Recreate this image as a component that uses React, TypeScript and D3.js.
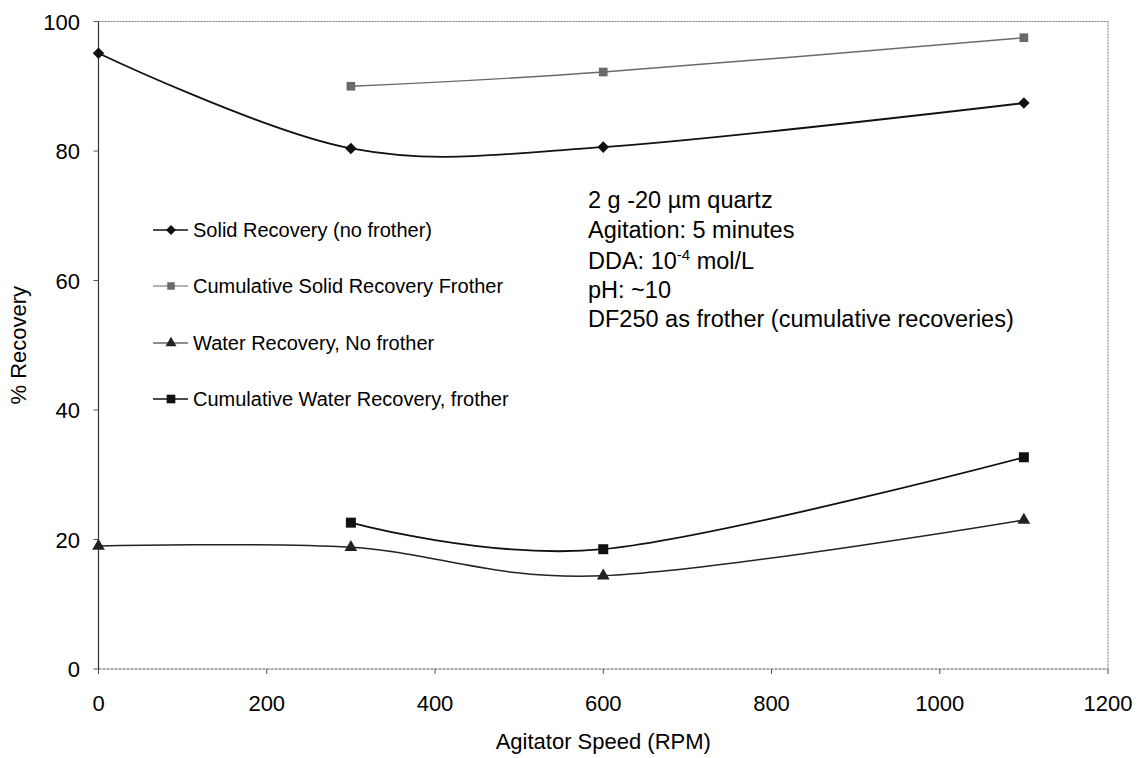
import React from "react";
import * as d3 from "d3";

// Agitator speed (RPM) and % recovery per series
const speedsNoFrother = [0, 300, 600, 1100];
const speedsFrother = [300, 600, 1100];
const solidNoFrother = [95.1, 80.4, 80.6, 87.4];
const solidFrother = [90.0, 92.2, 97.5];
const waterNoFrother = [19.0, 18.8, 14.4, 23.0];
const waterFrother = [22.6, 18.5, 32.7];

const xTicks = [0, 200, 400, 600, 800, 1000, 1200];
const yTicks = [0, 20, 40, 60, 80, 100];

const legendLabels = [
  "Solid Recovery (no frother)",
  "Cumulative Solid Recovery Frother",
  "Water Recovery, No frother",
  "Cumulative Water Recovery, frother",
];

const W = 1148;
const H = 758;
const FONT = "Arial, 'Liberation Sans', Helvetica, sans-serif";

type Series = {
  name: string;
  xs: number[];
  ys: number[];
  color: string;
  width: number;
  symbol: d3.SymbolType;
  size: number;
};

const series: Series[] = [
  { name: legendLabels[0], xs: speedsNoFrother, ys: solidNoFrother, color: "#111", width: 1.8, symbol: d3.symbolDiamond2, size: 85 },
  { name: legendLabels[1], xs: speedsFrother, ys: solidFrother, color: "#6a6a6a", width: 1.4, symbol: d3.symbolSquare, size: 75 },
  { name: legendLabels[2], xs: speedsNoFrother, ys: waterNoFrother, color: "#222", width: 1.5, symbol: d3.symbolTriangle, size: 70 },
  { name: legendLabels[3], xs: speedsFrother, ys: waterFrother, color: "#111", width: 1.8, symbol: d3.symbolSquare, size: 100 },
];

export default function App() {
  const x = d3.scaleLinear().domain([0, 1200]).range([98.5, 1108]);
  const y = d3.scaleLinear().domain([0, 100]).range([669, 21.5]);
  const [x0, x1] = x.range();
  const [y0, y1] = y.range();

  const line = d3
    .line<[number, number]>()
    .x((d) => x(d[0]))
    .y((d) => y(d[1]))
    .curve(d3.curveCardinal.tension(0));

  const legendX = 153;
  const legendY = [230, 286, 343, 399];

  return (
    <svg
      width={W}
      height={H}
      style={{ position: "absolute", left: 0, top: 0, background: "#fff" }}
      fontFamily={FONT}
    >
      {/* plot frame */}
      <line x1={x0} x2={x1} y1={y1} y2={y1} stroke="#777" strokeWidth={1} strokeDasharray="2,1" />
      <line x1={x1} x2={x1} y1={y1} y2={y0} stroke="#777" strokeWidth={1} strokeDasharray="2,1" />
      <line x1={x0} x2={x1} y1={y0} y2={y0} stroke="#555" strokeWidth={1} strokeDasharray="3,1" />
      <line x1={x0} x2={x0} y1={y1} y2={y0} stroke="#333" strokeWidth={1.2} />

      {/* x axis ticks and labels */}
      {xTicks.map((t) => (
        <g key={"x" + t}>
          <line x1={x(t)} x2={x(t)} y1={y0} y2={y0 + 5} stroke="#555" strokeWidth={1} />
          <text x={x(t)} y={711} textAnchor="middle" fontSize={22} fill="#000">
            {t}
          </text>
        </g>
      ))}
      <text x={(x0 + x1) / 2} y={749} textAnchor="middle" fontSize={22} fill="#000">
        Agitator Speed (RPM)
      </text>

      {/* y axis ticks and labels */}
      {yTicks.map((t) => (
        <g key={"y" + t}>
          <line x1={x0 - 5} x2={x0} y1={y(t)} y2={y(t)} stroke="#555" strokeWidth={1} />
          <text x={80} y={y(t) + 8} textAnchor="end" fontSize={22} fill="#000">
            {t}
          </text>
        </g>
      ))}
      <text
        transform={`translate(26, ${(y0 + y1) / 2}) rotate(-90)`}
        textAnchor="middle"
        fontSize={22}
        fill="#000"
      >
        % Recovery
      </text>

      {/* series lines */}
      {series.map((s) => (
        <path
          key={"l" + s.name}
          d={line(s.xs.map((v, i) => [v, s.ys[i]] as [number, number])) ?? ""}
          fill="none"
          stroke={s.color}
          strokeWidth={s.width}
        />
      ))}

      {/* series markers */}
      {series.map((s) =>
        s.xs.map((v, i) => (
          <path
            key={"m" + s.name + i}
            d={d3.symbol().type(s.symbol).size(s.size)() ?? ""}
            transform={`translate(${x(v)}, ${y(s.ys[i])})`}
            fill={s.color}
          />
        ))
      )}

      {/* legend */}
      {series.map((s, i) => (
        <g key={"lg" + s.name} transform={`translate(${legendX}, ${legendY[i]})`}>
          <line x1={0} x2={35} y1={0} y2={0} stroke={s.color} strokeWidth={s.width * 0.8} />
          <path d={d3.symbol().type(s.symbol).size(s.size * 0.75)() ?? ""} transform="translate(18, 0)" fill={s.color} />
          <text x={40} y={7} fontSize={20} fill="#000">
            {s.name}
          </text>
        </g>
      ))}

      {/* experimental conditions */}
      <g fontSize={23.5} fill="#000">
        <text x={588} y={208}>2 g -20 µm quartz</text>
        <text x={588} y={238}>Agitation: 5 minutes</text>
        <text x={588} y={269}>
          DDA: 10
          <tspan fontSize={15} dy={-9}>-4</tspan>
          <tspan dy={9}> mol/L</tspan>
        </text>
        <text x={588} y={298}>pH: ~10</text>
        <text x={588} y={327}>DF250 as frother (cumulative recoveries)</text>
      </g>
    </svg>
  );
}
